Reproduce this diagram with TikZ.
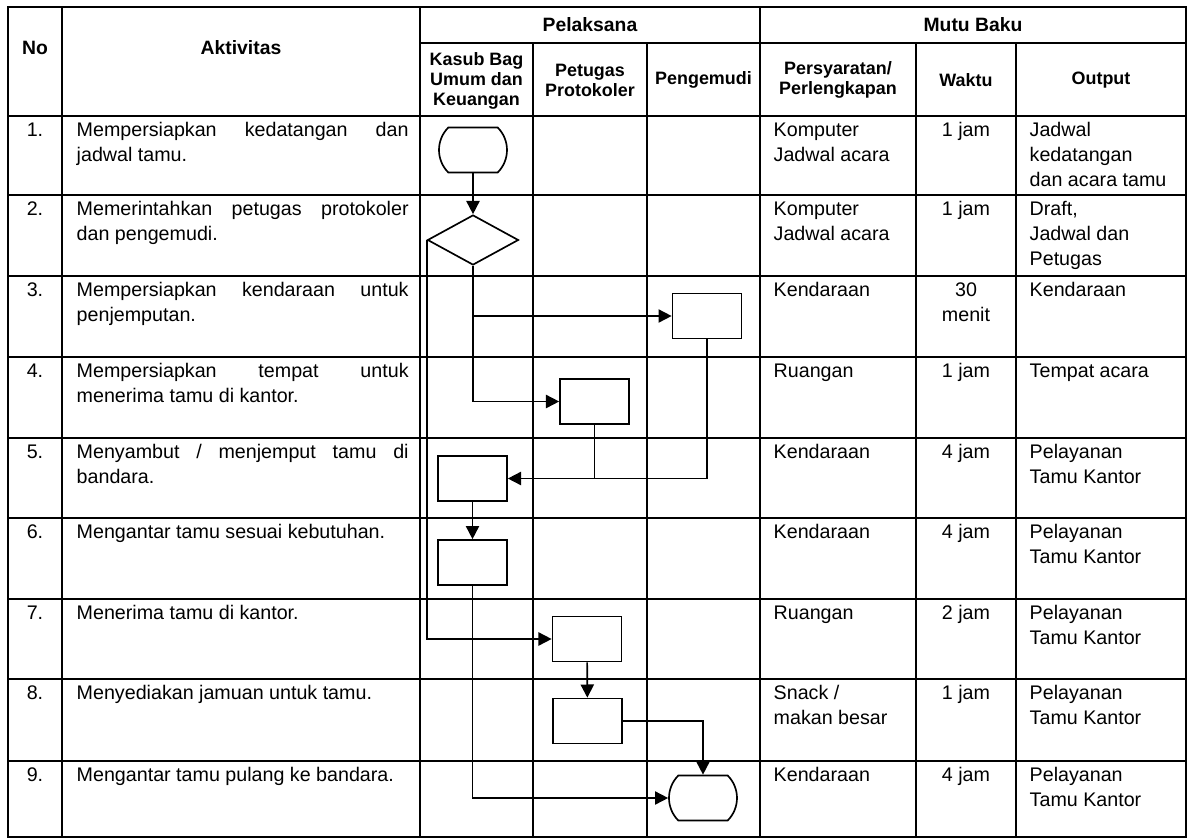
\documentclass[tikz,border=0pt]{standalone}
\usepackage{fontspec}
\setmainfont{Liberation Sans}
\usepackage{tikz}
\usetikzlibrary{arrows.meta,shapes.geometric,shapes.misc}

\begin{document}
\begin{tikzpicture}[x=0.02cm,y=-0.02cm,line width=0.8pt,
  kotak/.style={draw,rectangle,line width=0.95pt,minimum width=1.38cm,minimum height=0.9cm,inner sep=0pt},
  ujung/.style={draw,rounded rectangle,rounded rectangle arc length=90,line width=0.95pt,minimum width=1.36cm,minimum height=0.9cm,inner sep=0pt},
  putusan/.style={draw,diamond,line width=0.95pt,minimum width=1.82cm,minimum height=1cm,inner sep=0pt},
  panah/.style={line width=0.95pt,-{Triangle[length=7.5pt,width=7.5pt]}},
  judul/.style={font=\bfseries\fontsize{11}{13}\selectfont,inner sep=0pt},
  subjudul/.style={font=\bfseries\fontsize{10.2}{11.4}\selectfont,align=center,inner sep=0pt},
  isi/.style={font=\fontsize{11.2}{14.5}\selectfont,anchor=base west,inner sep=0pt},
  tengah/.style={font=\fontsize{11.2}{14.5}\selectfont,anchor=base,inner sep=0pt}]
\path[use as bounding box,fill=white] (0,0) rectangle (1191,839);

% garis tabel
\draw[line width=1pt] (8,7) rectangle (1186,837);
\draw (420,43) -- (1186,43);
\draw (8,116) -- (1186,116) (8,195) -- (1186,195) (8,276) -- (1186,276)
      (8,357) -- (1186,357) (8,438) -- (1186,438) (8,518) -- (1186,518)
      (8,599) -- (1186,599) (8,679) -- (1186,679) (8,761) -- (1186,761);
\draw (62,7) -- (62,837) (420,7) -- (420,837) (533,43) -- (533,837)
      (647,43) -- (647,837) (760,7) -- (760,837) (916,43) -- (916,837)
      (1016,43) -- (1016,837);

% kepala tabel
\node[judul] (hno) at (35,48) {No};
\node[judul] (hakt) at (241,48) {Aktivitas};
\node[judul] (hpel) at (590,25) {Pelaksana};
\node[judul] (hmutu) at (973,25) {Mutu Baku};
\node[subjudul] (hkasub) at (476.5,81) {Kasub Bag\\Umum dan\\Keuangan};
\node[subjudul] (hpetugas) at (590,80) {Petugas\\Protokoler};
\node[subjudul] (hsupir) at (703.5,80) {Pengemudi};
\node[subjudul] (hsyarat) at (838,80) {Persyaratan/\\Perlengkapan};
\node[subjudul] (hwaktu) at (966,80) {Waktu};
\node[subjudul] (hout) at (1101,80) {Output};

% nomor
\node[tengah] (n1) at (35,136) {1.};
\node[tengah] (n2) at (35,215) {2.};
\node[tengah] (n3) at (35,296) {3.};
\node[tengah] (n4) at (35,377) {4.};
\node[tengah] (n5) at (35,458) {5.};
\node[tengah] (n6) at (35,538) {6.};
\node[tengah] (n7) at (35,619) {7.};
\node[tengah] (n8) at (35,699) {8.};
\node[tengah] (n9) at (35,781) {9.};

% aktivitas
\node[isi] (a1) at (76,136) {\parbox[t]{6.64cm}{Mempersiapkan kedatangan dan\linebreak jadwal tamu.}};
\node[isi] (a2) at (76,215) {\parbox[t]{6.64cm}{Memerintahkan petugas protokoler\linebreak dan pengemudi.}};
\node[isi] (a3) at (76,296) {\parbox[t]{6.64cm}{Mempersiapkan kendaraan untuk\linebreak penjemputan.}};
\node[isi] (a4) at (76,377) {\parbox[t]{6.64cm}{Mempersiapkan tempat untuk\linebreak menerima tamu di kantor.}};
\node[isi] (a5) at (76,458) {\parbox[t]{6.64cm}{Menyambut / menjemput tamu di\linebreak bandara.}};
\node[isi] (a6) at (76,538) {Mengantar tamu sesuai kebutuhan.};
\node[isi] (a7) at (76,619) {Menerima tamu di kantor.};
\node[isi] (a8) at (76,699) {Menyediakan jamuan untuk tamu.};
\node[isi] (a9) at (76,781) {Mengantar tamu pulang ke bandara.};

% persyaratan
\node[isi] (p1) at (773,136) {\parbox[t]{3cm}{Komputer\\Jadwal acara}};
\node[isi] (p2) at (773,215) {\parbox[t]{3cm}{Komputer\\Jadwal acara}};
\node[isi] (p3) at (773,296) {Kendaraan};
\node[isi] (p4) at (773,377) {Ruangan};
\node[isi] (p5) at (773,458) {Kendaraan};
\node[isi] (p6) at (773,538) {Kendaraan};
\node[isi] (p7) at (773,619) {Ruangan};
\node[isi] (p8) at (773,699) {\parbox[t]{3cm}{Snack /\\makan besar}};
\node[isi] (p9) at (773,781) {Kendaraan};

% waktu
\node[tengah] (w1) at (966,136) {1 jam};
\node[tengah] (w2) at (966,215) {1 jam};
\node[tengah] (w3) at (966,296) {\parbox[t]{1.8cm}{\centering 30\\menit}};
\node[tengah] (w4) at (966,377) {1 jam};
\node[tengah] (w5) at (966,458) {4 jam};
\node[tengah] (w6) at (966,538) {4 jam};
\node[tengah] (w7) at (966,619) {2 jam};
\node[tengah] (w8) at (966,699) {1 jam};
\node[tengah] (w9) at (966,781) {4 jam};

% output
\node[isi] (o1) at (1029,136) {\parbox[t]{3.2cm}{Jadwal\\kedatangan\\dan acara tamu}};
\node[isi] (o2) at (1029,215) {\parbox[t]{3.2cm}{Draft,\\Jadwal dan\\Petugas}};
\node[isi] (o3) at (1029,296) {Kendaraan};
\node[isi] (o4) at (1029,377) {Tempat acara};
\node[isi] (o5) at (1029,458) {\parbox[t]{3.2cm}{Pelayanan\\Tamu Kantor}};
\node[isi] (o6) at (1029,538) {\parbox[t]{3.2cm}{Pelayanan\\Tamu Kantor}};
\node[isi] (o7) at (1029,619) {\parbox[t]{3.2cm}{Pelayanan\\Tamu Kantor}};
\node[isi] (o8) at (1029,699) {\parbox[t]{3.2cm}{Pelayanan\\Tamu Kantor}};
\node[isi] (o9) at (1029,781) {\parbox[t]{3.2cm}{Pelayanan\\Tamu Kantor}};

% bagan alir
\node[ujung] (mulai) at (473,150) {};
\node[putusan] (perintah) at (473,240) {};
\node[kotak] (kendaraan) at (707,316) {};
\node[kotak] (tempat) at (594.5,401.5) {};
\node[kotak] (sambut) at (472.5,478.5) {};
\node[kotak] (antar) at (472.5,562.5) {};
\node[kotak] (terima) at (587,639) {};
\node[kotak] (jamuan) at (587.5,721) {};
\node[ujung] (selesai) at (703,798) {};

\draw[panah] (mulai) -- (perintah);
\draw[panah] (perintah.south) |- (tempat.west);
\draw[panah] (perintah.south |- kendaraan.west) -- (kendaraan.west);
\draw[panah] (perintah.west) |- (terima.west);
\draw[panah] (kendaraan.south) |- (sambut.east);
\draw[line width=0.95pt] (tempat.south) -- (tempat.south |- sambut.east);
\draw[panah] (sambut) -- (antar);
\draw[panah] (antar.south) |- (selesai.west);
\draw[panah] (terima) -- (jamuan);
\draw[panah] (jamuan.east) -| (selesai.north);
\end{tikzpicture}
\end{document}
